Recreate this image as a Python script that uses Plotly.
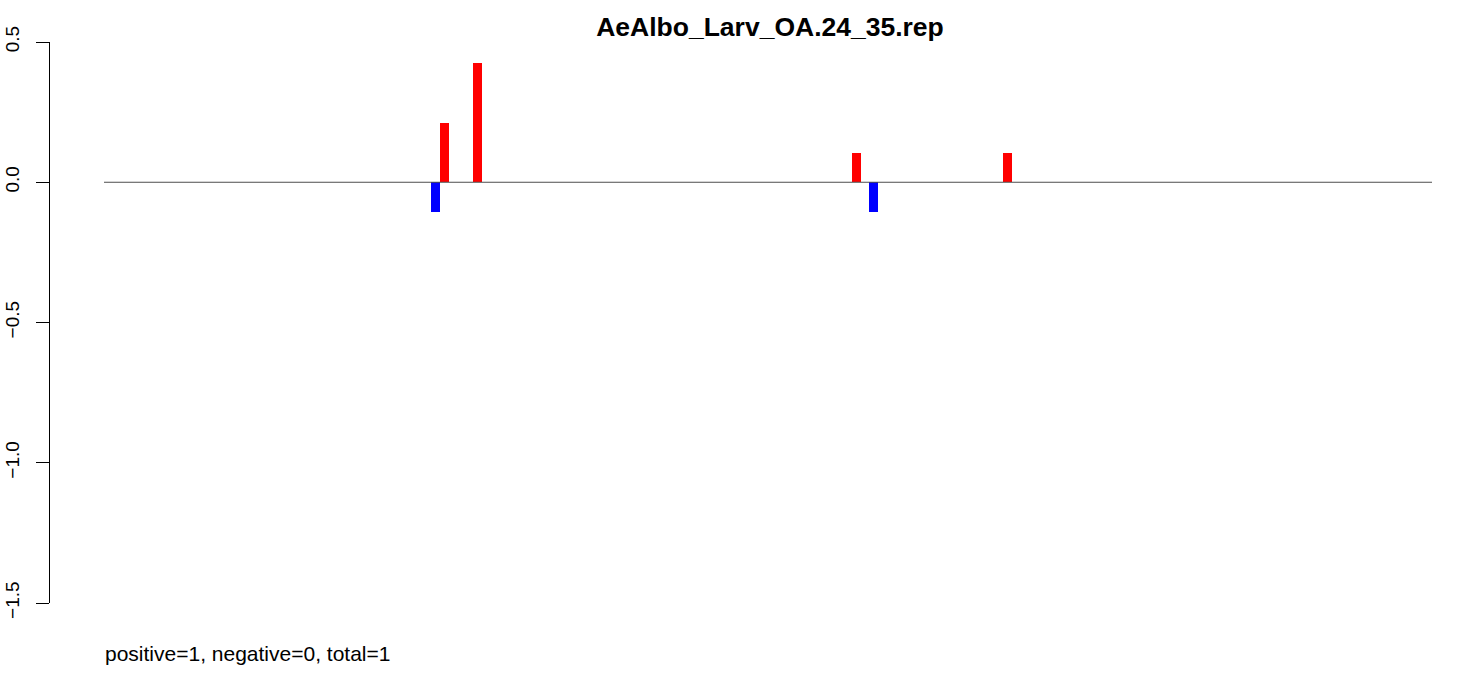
import plotly.graph_objects as go

# Data (x positions in bar-width units, values)
positions = [36.83, 37.83, 41.5, 83.6, 85.5, 100.4]
values = [-0.106, 0.213, 0.426, 0.106, -0.106, 0.106]
title_text = "AeAlbo_Larv_OA.24_35.rep"
footer_text = "positive=1, negative=0, total=1"
y_ticks = [0.5, 0.0, -0.5, -1.0, -1.5]
y_ticklabels = ["0.5", "0.0", "\u22120.5", "\u22121.0", "\u22121.5"]

colors = ["#ff0000" if v > 0 else "#0000ff" for v in values]

W, H = 1467, 676
left_px, right_px = 50, 1432
top_px, bottom_px = 41.7, 603.3
unit = 9.0
x_left = (left_px - 104) / unit
x_right = (1432 - 104) / unit

fig = go.Figure()
fig.add_trace(go.Bar(x=positions, y=values, width=1.0, base=0,
                     marker=dict(color=colors, line=dict(width=0)),
                     showlegend=False))

fig.add_shape(type="line", x0=0, x1=x_right, y0=0, y1=0, xref="x", yref="y",
              line=dict(color="#4d4d4d", width=1), layer="above")

fig.update_layout(
    width=W, height=H,
    paper_bgcolor="white", plot_bgcolor="white",
    margin=dict(l=left_px, r=W - right_px, t=top_px, b=H - bottom_px, pad=0,
                autoexpand=False),
    font=dict(family="Liberation Sans, Arial, sans-serif", color="black"),
    title=dict(text="<b>" + title_text + "</b>", x=770 / W, xref="container",
               xanchor="center", y=1 - 27 / H, yref="container", yanchor="middle",
               font=dict(size=26.5, color="black")),
    xaxis=dict(range=[x_left, x_right], visible=False, showgrid=False, zeroline=False,
               automargin=False),
    yaxis=dict(range=[-1.5, 0.5], tickvals=y_ticks, ticktext=y_ticklabels,
               tickangle=-90, ticks="outside", ticklen=13, tickwidth=1, tickcolor="black",
               showline=True, linecolor="black", linewidth=1,
               showgrid=False, zeroline=False, tickfont=dict(size=19),
               ticklabelstandoff=9, automargin=False),
    bargap=0,
    annotations=[dict(text=footer_text, xref="paper", yref="paper",
                      x=(103 - left_px) / (right_px - left_px), xanchor="left",
                      y=(bottom_px - 654) / (bottom_px - top_px), yanchor="middle",
                      showarrow=False, font=dict(size=21, color="black"))],
)

fig.write_html("out.html", config={"displayModeBar": False},
               post_script="document.body.style.margin='0';document.body.style.overflow='hidden';")
